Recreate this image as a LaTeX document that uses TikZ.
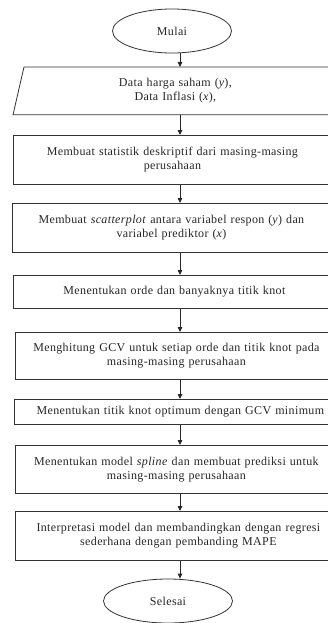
\documentclass[tikz,border=0pt]{standalone}
\usepackage{fontspec}
\setmainfont{Liberation Serif}[LetterSpace=3, WordSpace=1.2]
\usetikzlibrary{arrows.meta,shapes.geometric}
\begin{document}
\begin{tikzpicture}[x=1pt,y=-1pt,
  txt/.style={font=\fontsize{12}{14}\selectfont, text=black!85},
  box/.style={txt, draw=black!80, line width=0.8pt, rectangle, anchor=north west, inner sep=0pt, align=center},
  term/.style={txt, draw=black!80, line width=0.8pt, ellipse, inner sep=0pt},
  arr/.style={-{Triangle[length=5pt,width=4.5pt]}, line width=0.8pt, draw=black!85}]
\useasboundingbox (0,0) rectangle (328,623);
\clip (0,0) rectangle (328,623);
\coordinate (ax) at (180,0);
\node[term, minimum width=119pt, minimum height=44pt] (start) at (172,31) {Mulai};
\node[box, draw=none, minimum width=324pt, minimum height=47pt] (para) at (13,67) {Data harga saham (\textit{y}),\\Data Inflasi (\textit{x}),};
\draw[draw=black!80, line width=0.8pt] ([xshift=11pt]para.north west) -- (para.south west) -- ([xshift=30pt]para.south east) -- ([xshift=30pt]para.north east) -- cycle;
\node[box, minimum width=318pt, minimum height=49pt] (b1) at (13,135) {Membuat statistik deskriptif dari masing-masing\\perusahaan};
\node[box, minimum width=318pt, minimum height=49pt] (b2) at (12,203) {Membuat \textit{scatterplot} antara variabel respon (\textit{y}) dan\\variabel prediktor (\textit{x})};
\node[box, minimum width=322pt, minimum height=33pt] (b3) at (13,275) {Menentukan orde dan banyaknya titik knot};
\node[box, minimum width=322pt, minimum height=47pt] (b4) at (15,332) {Menghitung GCV untuk setiap orde dan titik knot pada\\masing-masing perusahaan};
\node[box, minimum width=332pt, minimum height=25pt] (b5) at (14,399) {Menentukan titik knot optimum dengan GCV minimum};
\node[box, minimum width=322pt, minimum height=48pt] (b6) at (15,445) {Menentukan model \textit{spline} dan membuat prediksi untuk\\masing-masing perusahaan};
\node[box, minimum width=326pt, minimum height=49pt] (b7) at (15,511) {Interpretasi model dan membandingkan dengan regresi\\sederhana dengan pembanding MAPE};
\node[term, minimum width=129pt, minimum height=44pt] (end) at (168,601) {Selesai};
\draw[arr] (start.south -| ax) -- (para.north -| ax);
\draw[arr] (para.south -| ax) -- (b1.north -| ax);
\draw[arr] (b1.south -| ax) -- (b2.north -| ax);
\draw[arr] (b2.south -| ax) -- (b3.north -| ax);
\draw[arr] (b3.south -| ax) -- (b4.north -| ax);
\draw[arr] (b4.south -| ax) -- (b5.north -| ax);
\draw[arr] (b5.south -| ax) -- (b6.north -| ax);
\draw[arr] (b6.south -| ax) -- (b7.north -| ax);
\draw[arr] (b7.south -| ax) -- (end.north -| ax);
\end{tikzpicture}
\end{document}
